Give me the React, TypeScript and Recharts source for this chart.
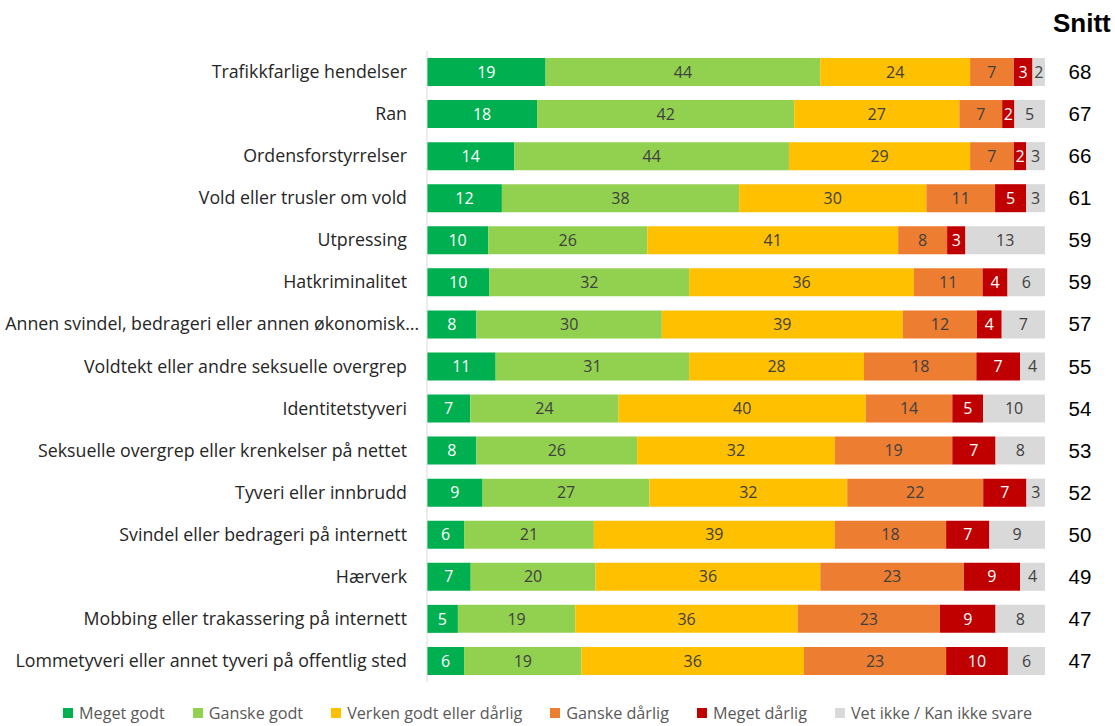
import { BarChart, Bar, XAxis, YAxis, LabelList } from 'recharts';

const categories = [
  'Trafikkfarlige hendelser',
  'Ran',
  'Ordensforstyrrelser',
  'Vold eller trusler om vold',
  'Utpressing',
  'Hatkriminalitet',
  'Annen svindel, bedrageri eller annen økonomisk…',
  'Voldtekt eller andre seksuelle overgrep',
  'Identitetstyveri',
  'Seksuelle overgrep eller krenkelser på nettet',
  'Tyveri eller innbrudd',
  'Svindel eller bedrageri på internett',
  'Hærverk',
  'Mobbing eller trakassering på internett',
  'Lommetyveri eller annet tyveri på offentlig sted',
];

const megetGodt = [19, 18, 14, 12, 10, 10, 8, 11, 7, 8, 9, 6, 7, 5, 6];
const ganskeGodt = [44, 42, 44, 38, 26, 32, 30, 31, 24, 26, 27, 21, 20, 19, 19];
const verken = [24, 27, 29, 30, 41, 36, 39, 28, 40, 32, 32, 39, 36, 36, 36];
const ganskeDarlig = [7, 7, 7, 11, 8, 11, 12, 18, 14, 19, 22, 18, 23, 23, 23];
const megetDarlig = [3, 2, 2, 5, 3, 4, 4, 7, 5, 7, 7, 7, 9, 9, 10];
const vetIkke = [2, 5, 3, 3, 13, 6, 7, 4, 10, 8, 3, 9, 4, 8, 6];
const snitt = [68, 67, 66, 61, 59, 59, 57, 55, 54, 53, 52, 50, 49, 47, 47];

const series = [
  { key: 'mg', name: 'Meget godt', values: megetGodt, color: '#00B050', text: '#ffffff' },
  { key: 'gg', name: 'Ganske godt', values: ganskeGodt, color: '#92D050', text: '#404040' },
  { key: 've', name: 'Verken godt eller dårlig', values: verken, color: '#FFC000', text: '#404040' },
  { key: 'gd', name: 'Ganske dårlig', values: ganskeDarlig, color: '#ED7D31', text: '#404040' },
  { key: 'md', name: 'Meget dårlig', values: megetDarlig, color: '#C00000', text: '#ffffff' },
  { key: 'vi', name: 'Vet ikke / Kan ikke svare', values: vetIkke, color: '#D9D9D9', text: '#404040' },
];

const data = categories.map((cat, i) => {
  const row: Record<string, string | number> = { cat, snitt: snitt[i] };
  series.forEach((s) => {
    row[s.key] = s.values[i];
  });
  return row;
});

const FONT = '"Open Sans", "Noto Sans", sans-serif';
const ARIAL = 'Arial, "Liberation Sans", sans-serif';

function CatTick(props: any) {
  const { x, y, payload } = props;
  // the truncated label runs a bit past the others in the original
  const shift = String(payload.value).endsWith('…') ? 12 : 0;
  return (
    <text x={x - 12 + shift} y={y} dy={6} textAnchor="end" fontSize={17.8} fontFamily={FONT} fill="#262626">
      {payload.value}
    </text>
  );
}

function SnittTick(props: any) {
  const { x, y, index } = props;
  return (
    <text x={x + 27} y={y} dy={7} textAnchor="middle" fontSize={20.5} fontFamily={ARIAL} fill="#000">
      {snitt[index]}
    </text>
  );
}

function LegendBox() {
  return (
    <div
      style={{
        position: 'absolute',
        left: 63,
        top: 702,
        display: 'flex',
        gap: 28,
        fontFamily: FONT,
        fontSize: 16.2,
        color: '#595959',
        whiteSpace: 'nowrap',
      }}
    >
      {series.map((s) => (
        <div key={s.key} style={{ display: 'flex', alignItems: 'center' }}>
          <span style={{ width: 10, height: 10, background: s.color, marginRight: 6, display: 'inline-block' }} />
          <span>{s.name}</span>
        </div>
      ))}
    </div>
  );
}

export default function App() {
  return (
    <div style={{ position: 'absolute', left: 0, top: 0, width: 1115, height: 726, background: '#fff' }}>
      <div
        style={{
          position: 'absolute',
          left: 1053,
          top: 8,
          fontFamily: ARIAL,
          fontWeight: 'bold',
          fontSize: 26,
          color: '#000',
          zIndex: 2,
        }}
      >
        Snitt
      </div>
      <BarChart
        width={1115}
        height={726}
        data={data}
        layout="vertical"
        stackOffset="expand"
        barSize={28}
        margin={{ top: 51, right: 0, bottom: 44, left: 0 }}
      >
        <XAxis type="number" domain={[0, 1]} hide />
        <YAxis
          yAxisId="left"
          type="category"
          dataKey="cat"
          width={427}
          tick={<CatTick />}
          tickLine={false}
          axisLine={{ stroke: '#D9D9D9' }}
          interval={0}
        />
        <YAxis
          yAxisId="snitt"
          orientation="right"
          type="category"
          dataKey="cat"
          width={70}
          tick={<SnittTick />}
          tickLine={false}
          axisLine={false}
          interval={0}
        />
        {series.map((s) => (
          <Bar key={s.key} yAxisId="left" dataKey={s.key} name={s.name} stackId="a" fill={s.color} isAnimationActive={false}>
            <LabelList dataKey={s.key} position="center" fill={s.text} fontSize={16} fontFamily={FONT} />
          </Bar>
        ))}
      </BarChart>
      <LegendBox />
    </div>
  );
}
